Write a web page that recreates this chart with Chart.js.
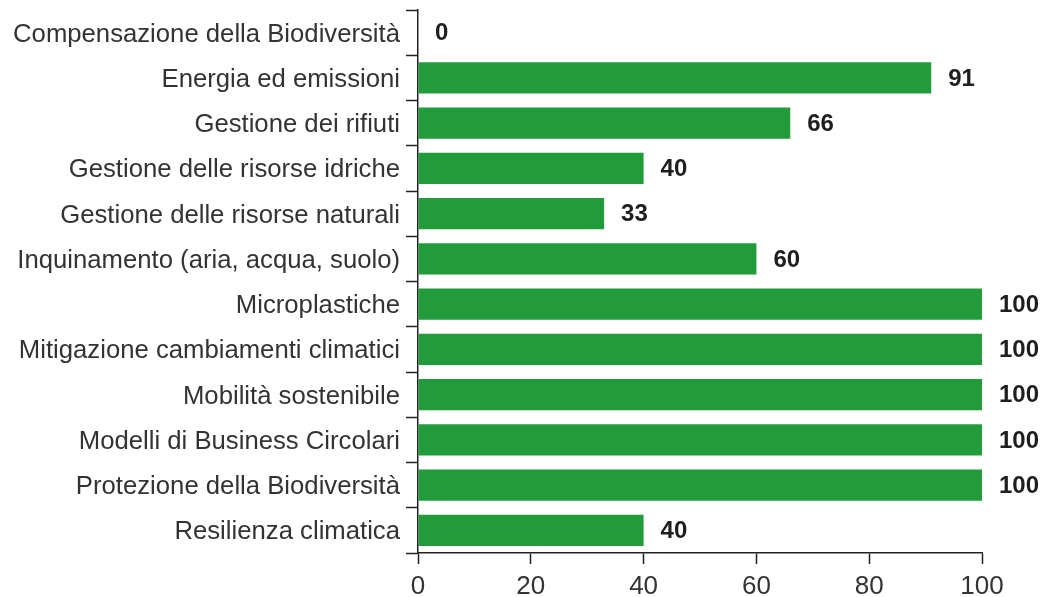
<!DOCTYPE html>
<html>
<head>
<meta charset="utf-8">
<script src="https://cdn.jsdelivr.net/npm/chart.js@4/dist/chart.umd.min.js"></script>
<style>
  html, body { margin: 0; padding: 0; background: #fff; }
  #wrap { width: 1048px; height: 597px; }
</style>
</head>
<body>
<div id="wrap"><canvas id="the-chart" width="1048" height="597"></canvas></div>
<script>
const categories = [
    "Compensazione della Biodiversità",
    "Energia ed emissioni",
    "Gestione dei rifiuti",
    "Gestione delle risorse idriche",
    "Gestione delle risorse naturali",
    "Inquinamento (aria, acqua, suolo)",
    "Microplastiche",
    "Mitigazione cambiamenti climatici",
    "Mobilità sostenibile",
    "Modelli di Business Circolari",
    "Protezione della Biodiversità",
    "Resilienza climatica"
];
const values = [0, 91, 66, 40, 33, 60, 100, 100, 100, 100, 100, 40];
const xTicks = [0, 20, 40, 60, 80, 100];

const FONT = "'Liberation Sans', Arial, sans-serif";

// draws the bold number just right of each bar end
const valueLabels = {
    id: "valueLabels",
    afterDatasetsDraw(chart) {
        const ctx = chart.ctx;
        const meta = chart.getDatasetMeta(0);
        ctx.save();
        ctx.font = "bold 24px " + FONT;
        ctx.fillStyle = "#1e1e1e";
        ctx.textBaseline = "middle";
        ctx.textAlign = "left";
        meta.data.forEach((bar, i) => {
            ctx.fillText(String(values[i]), bar.x + 17, bar.y + 1);
        });
        ctx.restore();
    }
};

new Chart(document.getElementById("the-chart"), {
    type: "bar",
    data: {
        labels: categories,
        datasets: [{
            data: values,
            backgroundColor: "#229b3b",
            borderWidth: 0,
            barPercentage: 0.69,
            categoryPercentage: 1
        }]
    },
    options: {
        indexAxis: "y",
        responsive: false,
        animation: false,
        layout: { padding: { top: 10, right: 66, bottom: 0, left: 0 } },
        plugins: {
            legend: { display: false },
            tooltip: { enabled: false }
        },
        scales: {
            x: {
                min: 0,
                max: 100,
                afterBuildTicks(scale) {
                    scale.ticks = xTicks.map(v => ({ value: v }));
                },
                afterFit(scale) {
                    scale.height = 44;
                    scale.paddingLeft = 0;
                    scale.paddingRight = 0;
                },
                grid: {
                    drawOnChartArea: false,
                    color: "#222",
                    tickLength: 11,
                    tickWidth: 1.5
                },
                border: { color: "#222", width: 1.5 },
                ticks: {
                    color: "#333",
                    font: { family: FONT, size: 26 },
                    padding: 7
                }
            },
            y: {
                afterFit(scale) {
                    scale.width = 418;
                    scale.paddingTop = 0;
                    scale.paddingBottom = 0;
                },
                grid: {
                    drawOnChartArea: false,
                    color: "#222",
                    tickLength: 12,
                    tickWidth: 1.5,
                    offset: true
                },
                border: { color: "#222", width: 1.5 },
                ticks: {
                    color: "#333",
                    font: { family: FONT, size: 25.7 },
                    padding: 6,
                    labelOffset: 2
                }
            }
        }
    },
    plugins: [valueLabels]
});
</script>
</body>
</html>
